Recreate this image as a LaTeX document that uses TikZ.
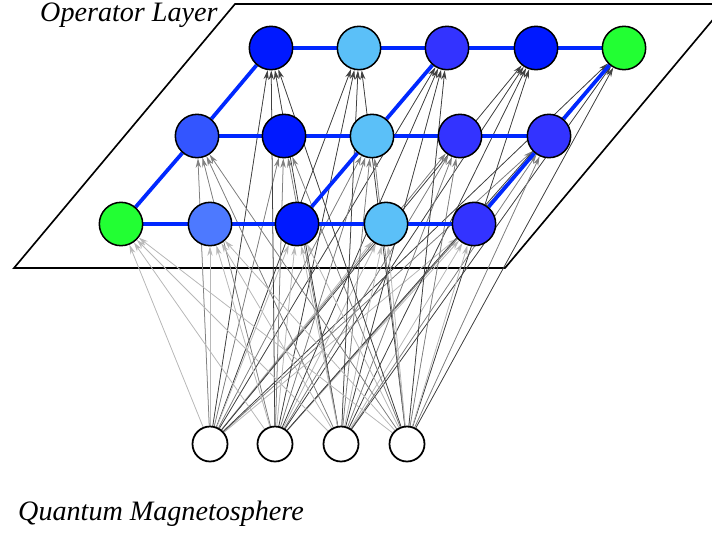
\documentclass[tikz,border=0pt]{standalone}
\usepackage{fontspec}
\setmainfont{Liberation Serif}
\usetikzlibrary{arrows.meta,backgrounds}

\definecolor{deepblue}{RGB}{0,25,255}
\definecolor{violetblue}{RGB}{51,51,255}
\definecolor{midblue}{RGB}{51,85,255}
\definecolor{paleblue}{RGB}{77,121,255}
\definecolor{skyblue}{RGB}{91,192,248}
\definecolor{lime}{RGB}{34,255,51}
\definecolor{linkblue}{RGB}{0,40,255}

\begin{document}
\begin{tikzpicture}[x=0.03cm, y=-0.03cm,
    op/.style={circle, draw=black, line width=1.3pt, minimum size=1.3cm, inner sep=0pt},
    inp/.style={circle, draw=black, line width=1.5pt, fill=white, minimum size=1.05cm, inner sep=0pt},
    link/.style={line width=3.2pt, draw=linkblue},
    feed/.style={line width=0.65pt, -{Stealth[length=8pt, width=4.5pt]}},
    caption/.style={anchor=base west, inner sep=0pt, font=\itshape\fontsize{24}{26}\selectfont}]
    \useasboundingbox (0,0) rectangle (712,533);

    % operator layer, back row
    \node [op, fill=deepblue]   (t1) at (271,48) {};
    \node [op, fill=skyblue]    (t2) at (359,48) {};
    \node [op, fill=violetblue] (t3) at (447,48) {};
    \node [op, fill=deepblue]   (t4) at (536,48) {};
    \node [op, fill=lime]       (t5) at (624,48) {};
    % middle row
    \node [op, fill=midblue]    (m1) at (197,136) {};
    \node [op, fill=deepblue]   (m2) at (284,136) {};
    \node [op, fill=skyblue]    (m3) at (372,136) {};
    \node [op, fill=violetblue] (m4) at (460,136) {};
    \node [op, fill=violetblue] (m5) at (549,136) {};
    % front row
    \node [op, fill=lime]       (b1) at (121,224) {};
    \node [op, fill=paleblue]   (b2) at (210,224) {};
    \node [op, fill=deepblue]   (b3) at (297,224) {};
    \node [op, fill=skyblue]    (b4) at (386,224) {};
    \node [op, fill=violetblue] (b5) at (474,224) {};

    % inputs
    \node [inp] (q1) at (210,444) {};
    \node [inp] (q2) at (275,444) {};
    \node [inp] (q3) at (341,444) {};
    \node [inp] (q4) at (407,444) {};

    \node [caption] (oplabel) at (40,21) {Operator Layer};
    \node [caption] (qlabel) at (18,520) {Quantum Magnetosphere};

    \begin{pgfonlayer}{background}
        \filldraw [line width=1.4pt, fill=white] (14,268) -- (235,4) -- (726,4) -- (505,268) -- cycle;

        \foreach \q in {q1,q2,q3,q4}{
            \foreach \n in {1,...,5}{
                \draw [feed, draw=black!28, fill=black!28] (\q) -- (b\n);
                \draw [feed, draw=black!50, fill=black!50] (\q) -- (m\n);
                \draw [feed, draw=black!75, fill=black!75] (\q) -- (t\n);
            }
        }

        \draw [link] (t1) -- (t2) -- (t3) -- (t4) -- (t5);
        \draw [link] (m1) -- (m2) -- (m3) -- (m4) -- (m5);
        \draw [link] (b1) -- (b2) -- (b3) -- (b4) -- (b5);
        \draw [link] (b1) -- (m1) -- (t1);
        \draw [link] (b3) -- (m3) -- (t3);
        \draw [link] (b5) -- (m5) -- (t5);
    \end{pgfonlayer}
\end{tikzpicture}
\end{document}
